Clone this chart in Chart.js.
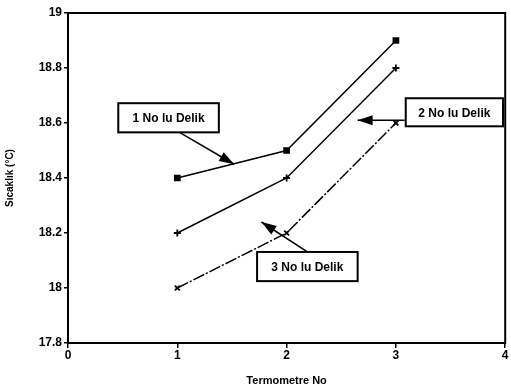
<!DOCTYPE html>
<html>
<head>
<meta charset="utf-8">
<script src="https://cdn.jsdelivr.net/npm/chart.js@4"></script>
<style>
  html, body { margin: 0; padding: 0; background: #fff; }
  #wrap { width: 511px; height: 388px; }
</style>
</head>
<body>
<div id="wrap"><canvas id="tempChart" width="511" height="388"></canvas></div>
<script>
const thermometers = [1, 2, 3];
const hole1 = [18.4, 18.5, 18.9];
const hole2 = [18.2, 18.4, 18.8];
const hole3 = [18.0, 18.2, 18.6];
const yTicks = [17.8, 18, 18.2, 18.4, 18.6, 18.8, 19];
const xTicks = [0, 1, 2, 3, 4];

// callout boxes: label, box corners (data units), arrow start and tip (data units)
const callouts = [
  { text: "1 No lu Delik", box: [0.46, 18.672, 1.38, 18.566], from: [1.02, 18.566], to: [1.52, 18.45] },
  { text: "2 No lu Delik", box: [3.09, 18.69, 3.98, 18.588], from: [3.08, 18.61], to: [2.65, 18.61] },
  { text: "3 No lu Delik", box: [1.73, 18.131, 2.65, 18.025], from: [2.19, 18.131], to: [1.77, 18.24] }
];

const font = "'Liberation Sans', Arial, sans-serif";

const calloutPlugin = {
  id: "callouts",
  afterDatasetsDraw(chart) {
    const ctx = chart.ctx;
    const xs = chart.scales.x, ys = chart.scales.y;
    const a = chart.chartArea;
    ctx.save();
    // frame
    ctx.strokeStyle = "#000";
    ctx.lineWidth = 2;
    ctx.strokeRect(a.left, a.top, a.right - a.left, a.bottom - a.top);
    callouts.forEach(c => {
      const x1 = xs.getPixelForValue(c.box[0]), y1 = ys.getPixelForValue(c.box[1]);
      const x2 = xs.getPixelForValue(c.box[2]), y2 = ys.getPixelForValue(c.box[3]);
      const fx = xs.getPixelForValue(c.from[0]), fy = ys.getPixelForValue(c.from[1]);
      const tx = xs.getPixelForValue(c.to[0]), ty = ys.getPixelForValue(c.to[1]);
      ctx.strokeStyle = "#000";
      ctx.lineWidth = 1.5;
      ctx.beginPath();
      ctx.moveTo(fx, fy);
      ctx.lineTo(tx, ty);
      ctx.stroke();
      const ang = Math.atan2(ty - fy, tx - fx);
      ctx.fillStyle = "#000";
      ctx.beginPath();
      ctx.moveTo(tx, ty);
      ctx.lineTo(tx - 15 * Math.cos(ang) + 5 * Math.sin(ang), ty - 15 * Math.sin(ang) - 5 * Math.cos(ang));
      ctx.lineTo(tx - 15 * Math.cos(ang) - 5 * Math.sin(ang), ty - 15 * Math.sin(ang) + 5 * Math.cos(ang));
      ctx.closePath();
      ctx.fill();
      ctx.fillStyle = "#fff";
      ctx.fillRect(x1, y1, x2 - x1, y2 - y1);
      ctx.lineWidth = 2;
      ctx.strokeRect(x1, y1, x2 - x1, y2 - y1);
      ctx.fillStyle = "#000";
      ctx.font = "bold 12px " + font;
      ctx.textAlign = "center";
      ctx.textBaseline = "middle";
      ctx.fillText(c.text, (x1 + x2) / 2, (y1 + y2) / 2 + 1);
    });
    ctx.restore();
  }
};

function series(label, data, style, dash) {
  return {
    label: label,
    data: data.map((v, i) => ({ x: thermometers[i], y: v })),
    borderColor: "#000",
    backgroundColor: "#000",
    borderWidth: 1.5,
    borderDash: dash,
    pointStyle: style,
    pointRadius: 3.5,
    pointBorderWidth: 1.8,
    tension: 0
  };
}

new Chart(document.getElementById("tempChart"), {
  type: "line",
  data: {
    datasets: [
      series("1 No lu Delik", hole1, "rect", []),
      series("2 No lu Delik", hole2, "cross", []),
      series("3 No lu Delik", hole3, "crossRot", [12, 2, 2, 2])
    ]
  },
  options: {
    responsive: false,
    animation: false,
    events: [],
    layout: { padding: { top: 13, right: 2, left: 4, bottom: 0 } },
    plugins: { legend: { display: false }, tooltip: { enabled: false } },
    scales: {
      x: {
        type: "linear",
        min: 0, max: 4,
        afterBuildTicks: s => { s.ticks = xTicks.map(v => ({ value: v })); },
        afterFit: s => { s.height = 45; },
        grid: { display: true, drawOnChartArea: false, drawTicks: true, tickLength: 5, color: "#000", lineWidth: 1.5 },
        border: { display: true, color: "#000", width: 2 },
        ticks: { color: "#000", font: { family: font, size: 12, weight: "bold" }, padding: 0 },
        title: { display: true, text: "Termometre No", color: "#000", font: { family: font, size: 11, weight: "bold" }, padding: { top: 6, bottom: 0 } }
      },
      y: {
        type: "linear",
        min: 17.8, max: 19,
        afterBuildTicks: s => { s.ticks = yTicks.map(v => ({ value: v })); },
        afterFit: s => { s.width = 64; },
        grid: { display: true, drawOnChartArea: false, drawTicks: true, tickLength: 4, color: "#000", lineWidth: 1.5 },
        border: { display: true, color: "#000", width: 2 },
        ticks: {
          color: "#000", font: { family: font, size: 12, weight: "bold" }, padding: 2,
          callback: v => String(Number(v.toFixed(1)))
        },
        title: { display: true, text: "Sıcaklık (°C)", color: "#000", font: { family: font, size: 10, weight: "bold" }, padding: { top: 0, bottom: 6 } }
      }
    }
  },
  plugins: [calloutPlugin]
});
</script>
</body>
</html>
